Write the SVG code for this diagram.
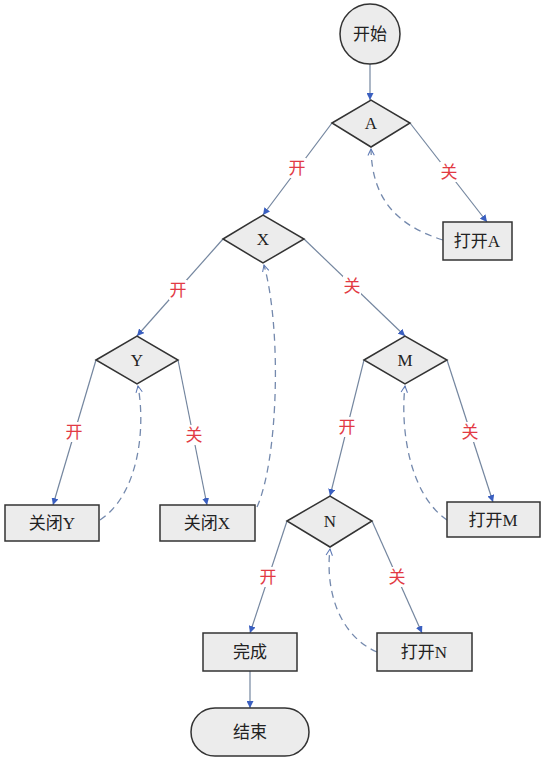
<svg xmlns="http://www.w3.org/2000/svg" width="548" height="762" viewBox="0 0 548 762">
<defs>
<style>
.node{fill:#ececec;stroke:#333;stroke-width:1.5}
.t{font-family:"Liberation Serif","Noto Sans CJK SC",serif;font-size:17px;fill:#222;text-anchor:middle;dominant-baseline:central}
.lbl{font-family:"Liberation Serif","Noto Sans CJK SC",serif;font-size:17px;fill:#e23a44;text-anchor:middle;dominant-baseline:central}
.e{fill:none;stroke:#74869f;stroke-width:1.2;marker-end:url(#ah)}
.d{fill:none;stroke:#7489ad;stroke-width:1.3;stroke-dasharray:7,5;marker-end:url(#oh)}
.bg{fill:#fff}
</style>
<marker id="ah" viewBox="0 0 10 10" refX="10" refY="5" markerWidth="7" markerHeight="7" markerUnits="userSpaceOnUse" orient="auto">
<path d="M0,0 L10,5 L0,10 z" fill="#3a5fc0"/>
</marker>
<marker id="oh" viewBox="0 0 10 10" refX="9" refY="5" markerWidth="8" markerHeight="8" markerUnits="userSpaceOnUse" orient="auto">
<path d="M1,1 L9,5 L1,9" fill="none" stroke="#5c78b4" stroke-width="1.3"/>
</marker>
</defs>
<rect width="548" height="762" fill="#fff"/>
<g id="connectors">
<path class="e" d="M370,64 L370,100"/>
<path class="e" d="M332,123 L263,215"/>
<path class="e" d="M410,123 L487,222"/>
<path class="e" d="M223,239 L137,336"/>
<path class="e" d="M304,239 L405,336"/>
<path class="e" d="M96,360 L53,505"/>
<path class="e" d="M178,360 L207,505"/>
<path class="e" d="M364,360 L330,496"/>
<path class="e" d="M447,360 L493,502"/>
<path class="e" d="M287,521 L250,633"/>
<path class="e" d="M372,521 L422,633"/>
<path class="e" d="M250,671 L250,708"/>
<path class="d" d="M443,240 C398,226 372,200 371,149"/>
<path class="d" d="M257,507 C278,460 282,330 264,265"/>
<path class="d" d="M100,520 C138,495 146,430 138,386"/>
<path class="d" d="M447,520 C410,495 400,430 405,386"/>
<path class="d" d="M377,652 C340,636 325,592 330,549"/>
<rect class="bg" x="288" y="158" width="18" height="20"/><text class="lbl" x="297" y="168">开</text>
<rect class="bg" x="440" y="162" width="18" height="20"/><text class="lbl" x="449" y="172">关</text>
<rect class="bg" x="169" y="280" width="18" height="20"/><text class="lbl" x="178" y="290">开</text>
<rect class="bg" x="343" y="276" width="18" height="20"/><text class="lbl" x="352" y="286">关</text>
<rect class="bg" x="65" y="422" width="18" height="20"/><text class="lbl" x="74" y="432">开</text>
<rect class="bg" x="185" y="425" width="18" height="20"/><text class="lbl" x="194" y="435">关</text>
<rect class="bg" x="338" y="417" width="18" height="20"/><text class="lbl" x="347" y="427">开</text>
<rect class="bg" x="461" y="422" width="18" height="20"/><text class="lbl" x="470" y="432">关</text>
<rect class="bg" x="259" y="567" width="18" height="20"/><text class="lbl" x="268" y="577">开</text>
<rect class="bg" x="388" y="567" width="18" height="20"/><text class="lbl" x="397" y="577">关</text>
</g>
<g id="start"><circle class="node" cx="370" cy="34" r="30"/><text class="t" x="370" y="34">开始</text></g>
<g id="A"><polygon class="node" points="332,123 371,100 410,123 371,147"/><text class="t" x="371" y="123">A</text></g>
<g id="openA"><rect class="node" x="443" y="222" width="69" height="38"/><text class="t" x="477" y="241">打开A</text></g>
<g id="X"><polygon class="node" points="223,239 263,215 304,239 263,263"/><text class="t" x="263" y="239">X</text></g>
<g id="Y"><polygon class="node" points="96,360 137,336 178,360 137,384"/><text class="t" x="137" y="360">Y</text></g>
<g id="closeY"><rect class="node" x="5" y="505" width="94" height="36"/><text class="t" x="52" y="523">关闭Y</text></g>
<g id="closeX"><rect class="node" x="160" y="505" width="95" height="36"/><text class="t" x="207" y="523">关闭X</text></g>
<g id="M"><polygon class="node" points="364,360 405,336 447,360 405,384"/><text class="t" x="405" y="360">M</text></g>
<g id="openM"><rect class="node" x="447" y="502" width="93" height="35"/><text class="t" x="493" y="520">打开M</text></g>
<g id="N"><polygon class="node" points="287,521 330,496 372,521 330,547"/><text class="t" x="330" y="521">N</text></g>
<g id="done"><rect class="node" x="203" y="633" width="94" height="38"/><text class="t" x="250" y="652">完成</text></g>
<g id="openN"><rect class="node" x="377" y="633" width="95" height="38"/><text class="t" x="424" y="652">打开N</text></g>
<g id="end"><rect class="node" x="191" y="708" width="118" height="48" rx="24"/><text class="t" x="250" y="732">结束</text></g>
</svg>
